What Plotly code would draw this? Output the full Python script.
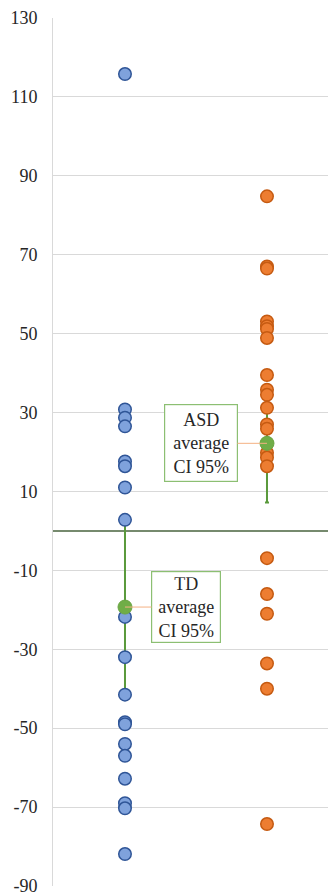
import plotly.graph_objects as go

groups = [1, 2]
group_names = ["TD", "ASD"]
td_values = [115.8, 30.8, 28.7, 26.5, 17.6, 16.4, 11.0, 2.8, -21.8, -32.0, -41.5,
             -48.5, -49.0, -54.0, -57.0, -62.8, -69.0, -70.3, -81.9]
asd_values = [84.8, 67.0, 66.5, 53.1, 51.9, 51.2, 48.9, 39.5, 35.8, 34.5, 31.2,
              27.0, 25.9, 19.8, 18.6, 16.4, -6.9, -16.0, -21.0, -33.6, -40.0, -74.3]
means = [-19.3, 22.2]
ci95 = [21.0, 15.0]
label_texts = ["TD<br>average<br>CI 95%", "ASD<br>average<br>CI 95%"]
y_ticks = [-90, -70, -50, -30, -10, 10, 30, 50, 70, 90, 110, 130]

fig = go.Figure()

# CI error bars (drawn beneath the data points)
fig.add_trace(go.Scatter(
    x=groups, y=means, mode="markers",
    marker=dict(size=1, opacity=0),
    error_y=dict(type="data", array=ci95, visible=True, color="#5A9A3C",
                 thickness=2, width=2),
    showlegend=False, hoverinfo="skip"))

fig.add_trace(go.Scatter(
    x=[groups[0]] * len(td_values), y=td_values, mode="markers",
    marker=dict(size=12.5, color="#7FA2DC", line=dict(color="#2F5597", width=1.5)),
    showlegend=False))

fig.add_trace(go.Scatter(
    x=[groups[1]] * len(asd_values), y=asd_values, mode="markers",
    marker=dict(size=12.5, color="#ED7D31", line=dict(color="#C55A11", width=1.5)),
    showlegend=False))

fig.add_trace(go.Scatter(
    x=groups, y=means, mode="markers",
    marker=dict(size=14, color="#70AD47", line=dict(color="#6AA543", width=1)),
    showlegend=False))

offsets = [61, -66]
sizes = [(58, 60), (62, 66)]
for g, m, t, off, (w, h) in zip(groups, means, label_texts, offsets, sizes):
    fig.add_annotation(
        x=g, y=m, xref="x", yref="y", text=t,
        showarrow=True, arrowhead=0, arrowwidth=1, arrowcolor="#F4B183",
        ax=off, ay=0, standoff=0,
        width=w, height=h, borderpad=5,
        bordercolor="#8CBF72", borderwidth=1.2, bgcolor="white",
        font=dict(family="Liberation Serif", size=18, color="#262626"),
        align="center")

fig.update_layout(
    width=328, height=888,
    margin=dict(l=45, r=0, t=9, b=7),
    plot_bgcolor="white", paper_bgcolor="white",
    xaxis=dict(range=[0.493, 2.486], showgrid=False, zeroline=False,
               showticklabels=False, showline=False, ticks=""),
    yaxis=dict(range=[-90, 130], tickvals=y_ticks,
               ticktext=[str(v) for v in y_ticks],
               showgrid=True, gridcolor="#D9D9D9", gridwidth=1,
               zeroline=True, zerolinecolor="#768A6E", zerolinewidth=1.5,
               showline=True, linecolor="#D9D9D9", linewidth=1,
               ticks="", ticklabelstandoff=11, ticklabeloverflow="allow",
               tickfont=dict(family="Liberation Serif", size=18, color="#262626")),
)

fig.write_html("out.html")
